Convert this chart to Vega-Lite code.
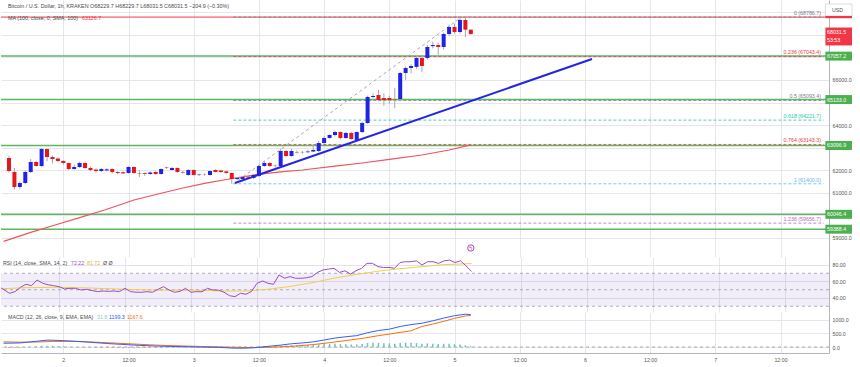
{
"$schema": "https://vega.github.io/schema/vega-lite/v6.json",
"padding": 0,
"spacing": 0,
"bounds": "flush",
"background": "white",
"config": {"view": {"stroke": null}, "font": "Liberation Sans", "axis": {"labelFont": "Liberation Sans", "labelOverlap": false}, "text": {"font": "Liberation Sans"}},
"datasets": {
"candles": [
{"h":-10,"o":62543,"hi":62650,"lo":61900,"c":61967},
{"h":-9,"o":61923,"hi":62100,"lo":61150,"c":61258},
{"h":-8,"o":61258,"hi":61500,"lo":61170,"c":61435},
{"h":-7,"o":61435,"hi":61980,"lo":61380,"c":61923},
{"h":-6,"o":61923,"hi":62500,"lo":61880,"c":62366},
{"h":-5,"o":62366,"hi":62420,"lo":62150,"c":62189},
{"h":-4,"o":62189,"hi":62990,"lo":62150,"c":62942},
{"h":-3,"o":62942,"hi":62960,"lo":62400,"c":62587},
{"h":-2,"o":62587,"hi":62650,"lo":62300,"c":62499},
{"h":-1,"o":62520,"hi":62560,"lo":62350,"c":62410},
{"h":0,"o":62410,"hi":62450,"lo":62250,"c":62322},
{"h":1,"o":62322,"hi":62340,"lo":62000,"c":62056},
{"h":2,"o":62056,"hi":62250,"lo":62020,"c":62144},
{"h":3,"o":62144,"hi":62380,"lo":62100,"c":62322},
{"h":4,"o":62322,"hi":62350,"lo":62050,"c":62100},
{"h":5,"o":62100,"hi":62160,"lo":61950,"c":62011},
{"h":6,"o":62030,"hi":62080,"lo":61900,"c":61967},
{"h":7,"o":61967,"hi":62100,"lo":61920,"c":62056},
{"h":8,"o":61990,"hi":62090,"lo":61950,"c":62040},
{"h":9,"o":62056,"hi":62080,"lo":61850,"c":61923},
{"h":10,"o":61923,"hi":61950,"lo":61820,"c":61879},
{"h":11,"o":61910,"hi":61950,"lo":61830,"c":61860},
{"h":12,"o":61879,"hi":62180,"lo":61850,"c":62144},
{"h":13,"o":62144,"hi":62170,"lo":61850,"c":61879},
{"h":14,"o":61879,"hi":62011,"lo":61700,"c":61860},
{"h":15,"o":61870,"hi":61900,"lo":61750,"c":61834},
{"h":16,"o":61834,"hi":61950,"lo":61800,"c":61900},
{"h":17,"o":61923,"hi":61960,"lo":61800,"c":61834},
{"h":18,"o":61834,"hi":62080,"lo":61800,"c":62056},
{"h":19,"o":62120,"hi":62160,"lo":62050,"c":62100},
{"h":20,"o":62011,"hi":62150,"lo":61980,"c":62100},
{"h":21,"o":62100,"hi":62130,"lo":61880,"c":61923},
{"h":22,"o":61923,"hi":61980,"lo":61860,"c":61900},
{"h":23,"o":61790,"hi":62050,"lo":61750,"c":62011},
{"h":24,"o":62011,"hi":62040,"lo":61760,"c":61790},
{"h":25,"o":61790,"hi":61850,"lo":61740,"c":61810},
{"h":26,"o":61810,"hi":61860,"lo":61760,"c":61800},
{"h":27,"o":61790,"hi":62000,"lo":61760,"c":61967},
{"h":28,"o":62011,"hi":62050,"lo":61900,"c":61923},
{"h":29,"o":61990,"hi":62020,"lo":61890,"c":61923},
{"h":30,"o":61950,"hi":61990,"lo":61850,"c":61879},
{"h":31,"o":61879,"hi":61900,"lo":61400,"c":61613},
{"h":32,"o":61613,"hi":61700,"lo":61560,"c":61657},
{"h":33,"o":61613,"hi":61750,"lo":61580,"c":61701},
{"h":34,"o":61720,"hi":61760,"lo":61620,"c":61680},
{"h":35,"o":61657,"hi":61830,"lo":61620,"c":61790},
{"h":36,"o":61746,"hi":62230,"lo":61700,"c":62189},
{"h":37,"o":62189,"hi":62420,"lo":62150,"c":62322},
{"h":38,"o":62322,"hi":62360,"lo":62140,"c":62189},
{"h":39,"o":62189,"hi":62260,"lo":62120,"c":62200},
{"h":40,"o":62189,"hi":62950,"lo":62150,"c":62853},
{"h":41,"o":62853,"hi":62900,"lo":62600,"c":62632},
{"h":42,"o":62632,"hi":62950,"lo":62600,"c":62853},
{"h":43,"o":62809,"hi":62880,"lo":62740,"c":62790},
{"h":44,"o":62790,"hi":62860,"lo":62740,"c":62800},
{"h":45,"o":62800,"hi":62900,"lo":62760,"c":62830},
{"h":46,"o":62830,"hi":63150,"lo":62800,"c":62900},
{"h":47,"o":62853,"hi":63300,"lo":62800,"c":63207},
{"h":48,"o":63207,"hi":63500,"lo":63180,"c":63429},
{"h":49,"o":63429,"hi":63600,"lo":63400,"c":63562},
{"h":50,"o":63562,"hi":63750,"lo":63500,"c":63695},
{"h":51,"o":63695,"hi":63720,"lo":63380,"c":63429},
{"h":52,"o":63429,"hi":63700,"lo":63400,"c":63651},
{"h":53,"o":63651,"hi":63700,"lo":63350,"c":63385},
{"h":54,"o":63341,"hi":63720,"lo":63300,"c":63695},
{"h":55,"o":63695,"hi":64150,"lo":63650,"c":64094},
{"h":56,"o":64094,"hi":65300,"lo":64050,"c":65246},
{"h":57,"o":65246,"hi":65400,"lo":65200,"c":65290},
{"h":58,"o":65335,"hi":65557,"lo":65050,"c":65113},
{"h":59,"o":65200,"hi":65400,"lo":64850,"c":65113},
{"h":60,"o":65200,"hi":65300,"lo":64950,"c":65113},
{"h":61,"o":65157,"hi":65644,"lo":64758,"c":65140},
{"h":62,"o":65157,"hi":66350,"lo":65100,"c":66309},
{"h":63,"o":66309,"hi":66600,"lo":66000,"c":66531},
{"h":64,"o":66531,"hi":66700,"lo":66300,"c":66620},
{"h":65,"o":66580,"hi":67100,"lo":66500,"c":66974},
{"h":66,"o":66974,"hi":67100,"lo":66350,"c":66620},
{"h":67,"o":66974,"hi":67550,"lo":66900,"c":67461},
{"h":68,"o":67500,"hi":67700,"lo":67400,"c":67550},
{"h":69,"o":67550,"hi":67650,"lo":67107,"c":67461},
{"h":70,"o":67461,"hi":68100,"lo":67350,"c":68037},
{"h":71,"o":68037,"hi":68450,"lo":67950,"c":68348},
{"h":72,"o":68348,"hi":68500,"lo":68050,"c":68126},
{"h":73,"o":68126,"hi":68786.7,"lo":68050,"c":68658},
{"h":74,"o":68658,"hi":68786,"lo":67905,"c":68229.7},
{"h":75,"o":68229.7,"hi":68229.7,"lo":68031.5,"c":68031.5}
],
"ma": [
{"h":-11,"v":58850},{"h":-6,"v":59250},{"h":-1.5,"v":59574},{"h":3,"v":59900},{"h":7.6,"v":60239},{"h":13,"v":60682},{"h":18,"v":60980},{"h":22,"v":61214},{"h":26,"v":61420},{"h":30,"v":61590},{"h":35,"v":61790},{"h":40,"v":61930},{"h":44,"v":62011},{"h":50,"v":62180},{"h":55,"v":62322},{"h":60,"v":62480},{"h":66,"v":62676},{"h":71,"v":62897},{"h":75,"v":63126.7}
],
"greens": [{"p":67057.2},{"p":65133.0},{"p":63096.9},{"p":60046.4},{"p":59388.4}],
"fibs": [
{"lvl":"0","p":68786.7,"lab":"0 (68786.7)"},
{"lvl":"0.236","p":67043.4,"lab":"0.236 (67043.4)"},
{"lvl":"0.5","p":65093.4,"lab":"0.5 (65093.4)"},
{"lvl":"0.618","p":64221.7,"lab":"0.618 (64221.7)"},
{"lvl":"0.764","p":63143.3,"lab":"0.764 (63143.3)"},
{"lvl":"1","p":61400.0,"lab":"1 (61400.0)"},
{"lvl":"1.236","p":59656.7,"lab":"1.236 (59656.7)"}
],
"fibdiag": [{"h":31.3,"p":61400},{"h":73.3,"p":68786.7}],
"trend": [{"h":31.6,"p":61436},{"h":97.3,"p":66930}],
"rsi": [
{"h":-11,"v":54},{"h":-10,"v":50},{"h":-9,"v":45.7},{"h":-8,"v":47.7},{"h":-7,"v":53},{"h":-6,"v":56.6},{"h":-5,"v":55},{"h":-4,"v":61.8},{"h":-3,"v":58},{"h":-2,"v":56},{"h":-1,"v":55},{"h":0,"v":53.7},{"h":1,"v":51},{"h":2,"v":51.7},{"h":3,"v":51.7},{"h":4,"v":49.7},{"h":5,"v":50.5},{"h":6,"v":49},{"h":7,"v":47.7},{"h":8,"v":48.5},{"h":9,"v":48},{"h":10,"v":48.5},{"h":11,"v":47.7},{"h":12,"v":51.7},{"h":13,"v":47.7},{"h":14,"v":47},{"h":15,"v":46.9},{"h":16,"v":47.7},{"h":17,"v":46.9},{"h":18,"v":50.5},{"h":19,"v":53.7},{"h":20,"v":49.7},{"h":21,"v":46.9},{"h":22,"v":48},{"h":23,"v":51.7},{"h":24,"v":46.9},{"h":25,"v":47.7},{"h":26,"v":47.5},{"h":27,"v":51.7},{"h":28,"v":49.7},{"h":29,"v":49.5},{"h":30,"v":47},{"h":31,"v":42.8},{"h":32,"v":41.6},{"h":33,"v":45.7},{"h":34,"v":44.5},{"h":35,"v":48},{"h":36,"v":57.8},{"h":37,"v":60.6},{"h":38,"v":57.8},{"h":39,"v":56.6},{"h":40,"v":67.9},{"h":41,"v":63.9},{"h":42,"v":65.9},{"h":43,"v":63.9},{"h":44,"v":63.9},{"h":45,"v":64.5},{"h":46,"v":66},{"h":47,"v":71},{"h":48,"v":74},{"h":49,"v":75},{"h":50,"v":76},{"h":51,"v":71},{"h":52,"v":73},{"h":53,"v":69},{"h":54,"v":73},{"h":55,"v":76},{"h":56,"v":82},{"h":57,"v":82},{"h":58,"v":78},{"h":59,"v":77},{"h":60,"v":77},{"h":61,"v":76},{"h":62,"v":83},{"h":63,"v":84},{"h":64,"v":84},{"h":65,"v":85},{"h":66,"v":80},{"h":67,"v":84},{"h":68,"v":84},{"h":69,"v":82},{"h":70,"v":85},{"h":71,"v":86},{"h":72,"v":83},{"h":73,"v":85},{"h":74,"v":79},{"h":75,"v":72.22}
],
"rsima": [
{"h":-11,"v":51},{"h":-6,"v":52.5},{"h":0,"v":53},{"h":6,"v":52},{"h":12,"v":50.5},{"h":18,"v":49.5},{"h":24,"v":49.5},{"h":30,"v":48.5},{"h":34,"v":48.5},{"h":38,"v":50.5},{"h":42,"v":54},{"h":46,"v":58.5},{"h":50,"v":64},{"h":54,"v":68.5},{"h":58,"v":72.5},{"h":62,"v":75.5},{"h":66,"v":78},{"h":70,"v":80.5},{"h":75,"v":81.72}
],
"macd": [
{"h":-11,"v":140},{"h":-8,"v":150},{"h":-5,"v":210},{"h":-3,"v":255},{"h":-1,"v":245},{"h":2,"v":215},{"h":5,"v":175},{"h":8,"v":130},{"h":11,"v":95},{"h":14,"v":60},{"h":17,"v":35},{"h":20,"v":20},{"h":23,"v":10},{"h":26,"v":-5},{"h":29,"v":-15},{"h":31,"v":-40},{"h":33,"v":-45},{"h":35,"v":-30},{"h":37,"v":10},{"h":40,"v":70},{"h":42,"v":120},{"h":44,"v":150},{"h":46,"v":190},{"h":48,"v":260},{"h":50,"v":330},{"h":52,"v":380},{"h":54,"v":420},{"h":56,"v":530},{"h":58,"v":610},{"h":60,"v":660},{"h":62,"v":760},{"h":64,"v":830},{"h":66,"v":880},{"h":68,"v":970},{"h":70,"v":1070},{"h":72,"v":1160},{"h":74,"v":1215},{"h":75,"v":1199.3}
],
"sig": [
{"h":-11,"v":190},{"h":-8,"v":180},{"h":-5,"v":185},{"h":-2,"v":205},{"h":1,"v":210},{"h":4,"v":195},{"h":7,"v":170},{"h":10,"v":140},{"h":13,"v":110},{"h":16,"v":80},{"h":19,"v":55},{"h":22,"v":38},{"h":25,"v":22},{"h":28,"v":8},{"h":31,"v":-8},{"h":34,"v":-20},{"h":37,"v":-15},{"h":40,"v":5},{"h":43,"v":40},{"h":46,"v":90},{"h":49,"v":160},{"h":52,"v":240},{"h":55,"v":320},{"h":58,"v":420},{"h":61,"v":510},{"h":64,"v":600},{"h":66,"v":760},{"h":68,"v":850},{"h":70,"v":950},{"h":72,"v":1060},{"h":74,"v":1150},{"h":75,"v":1167.6}
],
"hist": [
{"h":-10,"v":-40},{"h":-9,"v":-35},{"h":-8,"v":-30},{"h":-7,"v":-10},{"h":-6,"v":5},{"h":-5,"v":25},{"h":-4,"v":45},{"h":-3,"v":50},{"h":-2,"v":45},{"h":-1,"v":38},{"h":0,"v":25},{"h":1,"v":10},{"h":2,"v":3},{"h":3,"v":-8},{"h":4,"v":-15},{"h":5,"v":-20},{"h":6,"v":-25},{"h":7,"v":-30},{"h":8,"v":-35},{"h":9,"v":-38},{"h":10,"v":-40},{"h":11,"v":-42},{"h":12,"v":-40},{"h":13,"v":-42},{"h":14,"v":-40},{"h":15,"v":-40},{"h":16,"v":-38},{"h":17,"v":-35},{"h":18,"v":-30},{"h":19,"v":-25},{"h":20,"v":-20},{"h":21,"v":-22},{"h":22,"v":-25},{"h":23,"v":-20},{"h":24,"v":-20},{"h":25,"v":-22},{"h":26,"v":-18},{"h":27,"v":-15},{"h":28,"v":-18},{"h":29,"v":-20},{"h":30,"v":-25},{"h":31,"v":-32},{"h":32,"v":-30},{"h":33,"v":-25},{"h":34,"v":-12},{"h":35,"v":3},{"h":36,"v":18},{"h":37,"v":30},{"h":38,"v":32},{"h":39,"v":35},{"h":40,"v":55},{"h":41,"v":60},{"h":42,"v":70},{"h":43,"v":65},{"h":44,"v":60},{"h":45,"v":70},{"h":46,"v":85},{"h":47,"v":100},{"h":48,"v":110},{"h":49,"v":115},{"h":50,"v":120},{"h":51,"v":105},{"h":52,"v":100},{"h":53,"v":90},{"h":54,"v":95},{"h":55,"v":110},{"h":56,"v":150},{"h":57,"v":160},{"h":58,"v":150},{"h":59,"v":140},{"h":60,"v":130},{"h":61,"v":120},{"h":62,"v":150},{"h":63,"v":160},{"h":64,"v":155},{"h":65,"v":150},{"h":66,"v":125},{"h":67,"v":130},{"h":68,"v":125},{"h":69,"v":115},{"h":70,"v":120},{"h":71,"v":125},{"h":72,"v":100},{"h":73,"v":95},{"h":74,"v":65},{"h":75,"v":31.8}
]
},
"vconcat": [
{
"width": 828, "height": 257,
"layer": [
{"data": {"name": "greens"}, "mark": {"type": "rule", "color": "#5cb860", "strokeWidth": 1.5},
 "encoding": {"y": {"field": "p", "type": "quantitative", "title": null, "scale": {"domain": [58156, 69544], "nice": false, "zero": false}, "axis": {"orient": "right", "title": null, "values": [59000,60000,61000,62000,63000,64000,65000,66000,67000,68000,69000], "labelExpr": "indexof([60000,63000,65000,67000,68000,69000], datum.value) >= 0 ? '' : format(datum.value, '.1f')", "grid": true, "gridColor": "#e3e6ec", "ticks": false, "domain": true, "domainColor": "#b2b5be", "labelFontSize": 5.3, "labelColor": "#555555", "labelPadding": 3, "labelOverlap": false}}}},
{"data": {"values": [{}]}, "mark": {"type": "rule", "color": "#f23645", "strokeWidth": 1},
 "encoding": {"y": {"datum": 68786.7, "type": "quantitative", "title": null, "scale": {"domain": [58156, 69544], "nice": false, "zero": false}, "axis": {"orient": "right", "title": null, "values": [59000,60000,61000,62000,63000,64000,65000,66000,67000,68000,69000], "labelExpr": "indexof([60000,63000,65000,67000,68000,69000], datum.value) >= 0 ? '' : format(datum.value, '.1f')", "grid": true, "gridColor": "#e3e6ec", "ticks": false, "domain": true, "domainColor": "#b2b5be", "labelFontSize": 5.3, "labelColor": "#555555", "labelPadding": 3, "labelOverlap": false}}}},
{"data": {"name": "fibs"}, "mark": {"type": "rule", "strokeDash": [3, 2], "strokeWidth": 1, "opacity": 0.8},
 "encoding": {"x": {"datum": 31.3, "type": "quantitative", "title": null, "scale": {"domain": [-10.55, 140], "nice": false, "zero": false}, "axis": {"values": [0,12,24,36,48,60,72,84,96,108,120,132], "grid": true, "gridColor": "#e3e6ec", "labels": false, "ticks": false, "domain": false, "title": null, "labelOverlap": false}}, "x2": {"datum": 140},
   "y": {"field": "p", "type": "quantitative", "title": null, "scale": {"domain": [58156, 69544], "nice": false, "zero": false}, "axis": {"orient": "right", "title": null, "values": [59000,60000,61000,62000,63000,64000,65000,66000,67000,68000,69000], "labelExpr": "indexof([60000,63000,65000,67000,68000,69000], datum.value) >= 0 ? '' : format(datum.value, '.1f')", "grid": true, "gridColor": "#e3e6ec", "ticks": false, "domain": true, "domainColor": "#b2b5be", "labelFontSize": 5.3, "labelColor": "#555555", "labelPadding": 3, "labelOverlap": false}},
   "color": {"field": "lvl", "type": "nominal", "scale": {"domain": ["0","0.236","0.5","0.618","0.764","1","1.236"], "range": ["#787b86","#f23645","#787b86","#22c7a8","#f23645","#64b5f6","#b968c7"]}, "legend": null}}},
{"data": {"name": "fibdiag"}, "mark": {"type": "line", "color": "#a8a8a8", "strokeDash": [3, 3], "strokeWidth": 1},
 "encoding": {"x": {"field": "h", "type": "quantitative", "title": null, "scale": {"domain": [-10.55, 140], "nice": false, "zero": false}, "axis": {"values": [0,12,24,36,48,60,72,84,96,108,120,132], "grid": true, "gridColor": "#e3e6ec", "labels": false, "ticks": false, "domain": false, "title": null, "labelOverlap": false}},
   "y": {"field": "p", "type": "quantitative", "title": null, "scale": {"domain": [58156, 69544], "nice": false, "zero": false}, "axis": {"orient": "right", "title": null, "values": [59000,60000,61000,62000,63000,64000,65000,66000,67000,68000,69000], "labelExpr": "indexof([60000,63000,65000,67000,68000,69000], datum.value) >= 0 ? '' : format(datum.value, '.1f')", "grid": true, "gridColor": "#e3e6ec", "ticks": false, "domain": true, "domainColor": "#b2b5be", "labelFontSize": 5.3, "labelColor": "#555555", "labelPadding": 3, "labelOverlap": false}}}},
{"data": {"name": "ma"}, "mark": {"type": "line", "color": "#f0535c", "strokeWidth": 1.2, "clip": true},
 "encoding": {"x": {"field": "h", "type": "quantitative", "title": null, "scale": {"domain": [-10.55, 140], "nice": false, "zero": false}, "axis": {"values": [0,12,24,36,48,60,72,84,96,108,120,132], "grid": true, "gridColor": "#e3e6ec", "labels": false, "ticks": false, "domain": false, "title": null, "labelOverlap": false}},
   "y": {"field": "v", "type": "quantitative", "title": null, "scale": {"domain": [58156, 69544], "nice": false, "zero": false}, "axis": {"orient": "right", "title": null, "values": [59000,60000,61000,62000,63000,64000,65000,66000,67000,68000,69000], "labelExpr": "indexof([60000,63000,65000,67000,68000,69000], datum.value) >= 0 ? '' : format(datum.value, '.1f')", "grid": true, "gridColor": "#e3e6ec", "ticks": false, "domain": true, "domainColor": "#b2b5be", "labelFontSize": 5.3, "labelColor": "#555555", "labelPadding": 3, "labelOverlap": false}}}},
{"data": {"name": "candles"}, "mark": {"type": "rule", "color": "#a8a8a8", "strokeWidth": 1, "clip": true},
 "encoding": {"x": {"field": "h", "type": "quantitative", "title": null, "scale": {"domain": [-10.55, 140], "nice": false, "zero": false}, "axis": {"values": [0,12,24,36,48,60,72,84,96,108,120,132], "grid": true, "gridColor": "#e3e6ec", "labels": false, "ticks": false, "domain": false, "title": null, "labelOverlap": false}},
   "y": {"field": "lo", "type": "quantitative", "title": null, "scale": {"domain": [58156, 69544], "nice": false, "zero": false}, "axis": {"orient": "right", "title": null, "values": [59000,60000,61000,62000,63000,64000,65000,66000,67000,68000,69000], "labelExpr": "indexof([60000,63000,65000,67000,68000,69000], datum.value) >= 0 ? '' : format(datum.value, '.1f')", "grid": true, "gridColor": "#e3e6ec", "ticks": false, "domain": true, "domainColor": "#b2b5be", "labelFontSize": 5.3, "labelColor": "#555555", "labelPadding": 3, "labelOverlap": false}}, "y2": {"field": "hi"}}},
{"data": {"name": "candles"}, "mark": {"type": "bar", "clip": true},
 "encoding": {"x": {"field": "h", "type": "quantitative", "title": null, "scale": {"domain": [-10.55, 140], "nice": false, "zero": false}, "axis": {"values": [0,12,24,36,48,60,72,84,96,108,120,132], "grid": true, "gridColor": "#e3e6ec", "labels": false, "ticks": false, "domain": false, "title": null, "labelOverlap": false}},
   "y": {"field": "o", "type": "quantitative", "title": null, "scale": {"domain": [58156, 69544], "nice": false, "zero": false}, "axis": {"orient": "right", "title": null, "values": [59000,60000,61000,62000,63000,64000,65000,66000,67000,68000,69000], "labelExpr": "indexof([60000,63000,65000,67000,68000,69000], datum.value) >= 0 ? '' : format(datum.value, '.1f')", "grid": true, "gridColor": "#e3e6ec", "ticks": false, "domain": true, "domainColor": "#b2b5be", "labelFontSize": 5.3, "labelColor": "#555555", "labelPadding": 3, "labelOverlap": false}}, "y2": {"field": "c"},
   "size": {"value": 4},
   "color": {"condition": {"test": "datum.c >= datum.o", "value": "#1f23e6"}, "value": "#e5171b"}}},
{"data": {"name": "trend"}, "mark": {"type": "line", "color": "#2424e6", "strokeWidth": 2},
 "encoding": {"x": {"field": "h", "type": "quantitative", "title": null, "scale": {"domain": [-10.55, 140], "nice": false, "zero": false}, "axis": {"values": [0,12,24,36,48,60,72,84,96,108,120,132], "grid": true, "gridColor": "#e3e6ec", "labels": false, "ticks": false, "domain": false, "title": null, "labelOverlap": false}},
   "y": {"field": "p", "type": "quantitative", "title": null, "scale": {"domain": [58156, 69544], "nice": false, "zero": false}, "axis": {"orient": "right", "title": null, "values": [59000,60000,61000,62000,63000,64000,65000,66000,67000,68000,69000], "labelExpr": "indexof([60000,63000,65000,67000,68000,69000], datum.value) >= 0 ? '' : format(datum.value, '.1f')", "grid": true, "gridColor": "#e3e6ec", "ticks": false, "domain": true, "domainColor": "#b2b5be", "labelFontSize": 5.3, "labelColor": "#555555", "labelPadding": 3, "labelOverlap": false}}}},
{"data": {"name": "fibs"}, "mark": {"type": "text", "align": "right", "dx": -3, "dy": -4, "fontSize": 5.3},
 "encoding": {"x": {"datum": 140, "type": "quantitative", "title": null, "scale": {"domain": [-10.55, 140], "nice": false, "zero": false}, "axis": {"values": [0,12,24,36,48,60,72,84,96,108,120,132], "grid": true, "gridColor": "#e3e6ec", "labels": false, "ticks": false, "domain": false, "title": null, "labelOverlap": false}},
   "y": {"field": "p", "type": "quantitative", "title": null, "scale": {"domain": [58156, 69544], "nice": false, "zero": false}, "axis": {"orient": "right", "title": null, "values": [59000,60000,61000,62000,63000,64000,65000,66000,67000,68000,69000], "labelExpr": "indexof([60000,63000,65000,67000,68000,69000], datum.value) >= 0 ? '' : format(datum.value, '.1f')", "grid": true, "gridColor": "#e3e6ec", "ticks": false, "domain": true, "domainColor": "#b2b5be", "labelFontSize": 5.3, "labelColor": "#555555", "labelPadding": 3, "labelOverlap": false}},
   "text": {"field": "lab"},
   "color": {"field": "lvl", "type": "nominal", "legend": null}}},
{"data": {"values": [{"t": "Bitcoin / U.S. Dollar, 1h, KRAKEN  O68229.7  H68229.7  L68031.5  C68031.5  −204.9 (−0.30%)", "y": 69278}, {"t": "MA (100, close, 0, SMA, 100)", "y": 68746}]}, "mark": {"type": "text", "align": "left", "dx": 2, "fontSize": 5.4, "color": "#4a4a4a"},
 "encoding": {"x": {"datum": -10.55, "type": "quantitative", "title": null, "scale": {"domain": [-10.55, 140], "nice": false, "zero": false}, "axis": {"values": [0,12,24,36,48,60,72,84,96,108,120,132], "grid": true, "gridColor": "#e3e6ec", "labels": false, "ticks": false, "domain": false, "title": null, "labelOverlap": false}},
   "y": {"field": "y", "type": "quantitative", "title": null, "scale": {"domain": [58156, 69544], "nice": false, "zero": false}, "axis": {"orient": "right", "title": null, "values": [59000,60000,61000,62000,63000,64000,65000,66000,67000,68000,69000], "labelExpr": "indexof([60000,63000,65000,67000,68000,69000], datum.value) >= 0 ? '' : format(datum.value, '.1f')", "grid": true, "gridColor": "#e3e6ec", "ticks": false, "domain": true, "domainColor": "#b2b5be", "labelFontSize": 5.3, "labelColor": "#555555", "labelPadding": 3, "labelOverlap": false}},
   "text": {"field": "t"}}},
{"data": {"values": [{"t": "63126.7", "y": 68746}]}, "mark": {"type": "text", "align": "left", "dx": 76, "fontSize": 5.3, "color": "#f23645"},
 "encoding": {"x": {"datum": -10.55, "type": "quantitative", "title": null, "scale": {"domain": [-10.55, 140], "nice": false, "zero": false}, "axis": {"values": [0,12,24,36,48,60,72,84,96,108,120,132], "grid": true, "gridColor": "#e3e6ec", "labels": false, "ticks": false, "domain": false, "title": null, "labelOverlap": false}},
   "y": {"field": "y", "type": "quantitative", "title": null, "scale": {"domain": [58156, 69544], "nice": false, "zero": false}, "axis": {"orient": "right", "title": null, "values": [59000,60000,61000,62000,63000,64000,65000,66000,67000,68000,69000], "labelExpr": "indexof([60000,63000,65000,67000,68000,69000], datum.value) >= 0 ? '' : format(datum.value, '.1f')", "grid": true, "gridColor": "#e3e6ec", "ticks": false, "domain": true, "domainColor": "#b2b5be", "labelFontSize": 5.3, "labelColor": "#555555", "labelPadding": 3, "labelOverlap": false}},
   "text": {"field": "t"}}},
{"data": {"values": [{"y": 69101}]}, "mark": {"type": "point", "shape": "M0.1,-0.43H2V0.43H0.1Z", "size": 784, "filled": true, "fill": "white", "stroke": "#d1d4dc", "strokeWidth": 0.8, "opacity": 1, "clip": false},
 "encoding": {"x": {"datum": 140, "type": "quantitative", "title": null, "scale": {"domain": [-10.55, 140], "nice": false, "zero": false}, "axis": {"values": [0,12,24,36,48,60,72,84,96,108,120,132], "grid": true, "gridColor": "#e3e6ec", "labels": false, "ticks": false, "domain": false, "title": null, "labelOverlap": false}},
   "y": {"field": "y", "type": "quantitative", "title": null, "scale": {"domain": [58156, 69544], "nice": false, "zero": false}, "axis": {"orient": "right", "title": null, "values": [59000,60000,61000,62000,63000,64000,65000,66000,67000,68000,69000], "labelExpr": "indexof([60000,63000,65000,67000,68000,69000], datum.value) >= 0 ? '' : format(datum.value, '.1f')", "grid": true, "gridColor": "#e3e6ec", "ticks": false, "domain": true, "domainColor": "#b2b5be", "labelFontSize": 5.3, "labelColor": "#555555", "labelPadding": 3, "labelOverlap": false}}}},
{"data": {"values": [{"t": "USD", "y": 69101}]}, "mark": {"type": "text", "align": "left", "dx": 8, "fontSize": 5.3, "color": "#555555", "clip": false},
 "encoding": {"x": {"datum": 140, "type": "quantitative", "title": null, "scale": {"domain": [-10.55, 140], "nice": false, "zero": false}, "axis": {"values": [0,12,24,36,48,60,72,84,96,108,120,132], "grid": true, "gridColor": "#e3e6ec", "labels": false, "ticks": false, "domain": false, "title": null, "labelOverlap": false}},
   "y": {"field": "y", "type": "quantitative", "title": null, "scale": {"domain": [58156, 69544], "nice": false, "zero": false}, "axis": {"orient": "right", "title": null, "values": [59000,60000,61000,62000,63000,64000,65000,66000,67000,68000,69000], "labelExpr": "indexof([60000,63000,65000,67000,68000,69000], datum.value) >= 0 ? '' : format(datum.value, '.1f')", "grid": true, "gridColor": "#e3e6ec", "ticks": false, "domain": true, "domainColor": "#b2b5be", "labelFontSize": 5.3, "labelColor": "#555555", "labelPadding": 3, "labelOverlap": false}},
   "text": {"field": "t"}}},
{"data": {"name": "greens"}, "mark": {"type": "point", "shape": "M0.1,-0.32H2V0.32H0.1Z", "size": 784, "filled": true, "color": "#4caf50", "opacity": 1, "clip": false},
 "encoding": {"x": {"datum": 140, "type": "quantitative", "title": null, "scale": {"domain": [-10.55, 140], "nice": false, "zero": false}, "axis": {"values": [0,12,24,36,48,60,72,84,96,108,120,132], "grid": true, "gridColor": "#e3e6ec", "labels": false, "ticks": false, "domain": false, "title": null, "labelOverlap": false}},
   "y": {"field": "p", "type": "quantitative", "title": null, "scale": {"domain": [58156, 69544], "nice": false, "zero": false}, "axis": {"orient": "right", "title": null, "values": [59000,60000,61000,62000,63000,64000,65000,66000,67000,68000,69000], "labelExpr": "indexof([60000,63000,65000,67000,68000,69000], datum.value) >= 0 ? '' : format(datum.value, '.1f')", "grid": true, "gridColor": "#e3e6ec", "ticks": false, "domain": true, "domainColor": "#b2b5be", "labelFontSize": 5.3, "labelColor": "#555555", "labelPadding": 3, "labelOverlap": false}}}},
{"data": {"name": "greens"}, "mark": {"type": "text", "align": "left", "dx": 3, "fontSize": 5.3, "color": "white", "clip": false},
 "encoding": {"x": {"datum": 140, "type": "quantitative", "title": null, "scale": {"domain": [-10.55, 140], "nice": false, "zero": false}, "axis": {"values": [0,12,24,36,48,60,72,84,96,108,120,132], "grid": true, "gridColor": "#e3e6ec", "labels": false, "ticks": false, "domain": false, "title": null, "labelOverlap": false}},
   "y": {"field": "p", "type": "quantitative", "title": null, "scale": {"domain": [58156, 69544], "nice": false, "zero": false}, "axis": {"orient": "right", "title": null, "values": [59000,60000,61000,62000,63000,64000,65000,66000,67000,68000,69000], "labelExpr": "indexof([60000,63000,65000,67000,68000,69000], datum.value) >= 0 ? '' : format(datum.value, '.1f')", "grid": true, "gridColor": "#e3e6ec", "ticks": false, "domain": true, "domainColor": "#b2b5be", "labelFontSize": 5.3, "labelColor": "#555555", "labelPadding": 3, "labelOverlap": false}},
   "text": {"field": "p", "type": "quantitative", "format": ".1f"}}},
{"data": {"values": [{"y": 67927}]}, "mark": {"type": "point", "shape": "M0.1,-0.64H2V0.64H0.1Z", "size": 784, "filled": true, "color": "#f23645", "opacity": 1, "clip": false},
 "encoding": {"x": {"datum": 140, "type": "quantitative", "title": null, "scale": {"domain": [-10.55, 140], "nice": false, "zero": false}, "axis": {"values": [0,12,24,36,48,60,72,84,96,108,120,132], "grid": true, "gridColor": "#e3e6ec", "labels": false, "ticks": false, "domain": false, "title": null, "labelOverlap": false}},
   "y": {"field": "y", "type": "quantitative", "title": null, "scale": {"domain": [58156, 69544], "nice": false, "zero": false}, "axis": {"orient": "right", "title": null, "values": [59000,60000,61000,62000,63000,64000,65000,66000,67000,68000,69000], "labelExpr": "indexof([60000,63000,65000,67000,68000,69000], datum.value) >= 0 ? '' : format(datum.value, '.1f')", "grid": true, "gridColor": "#e3e6ec", "ticks": false, "domain": true, "domainColor": "#b2b5be", "labelFontSize": 5.3, "labelColor": "#555555", "labelPadding": 3, "labelOverlap": false}}}},
{"data": {"values": [{"y": 68786.7}]}, "mark": {"type": "point", "shape": "M0.1,-0.08H2V0.08H0.1Z", "size": 784, "filled": true, "color": "#f23645", "opacity": 1, "clip": false},
 "encoding": {"x": {"datum": 140, "type": "quantitative", "title": null, "scale": {"domain": [-10.55, 140], "nice": false, "zero": false}, "axis": {"values": [0,12,24,36,48,60,72,84,96,108,120,132], "grid": true, "gridColor": "#e3e6ec", "labels": false, "ticks": false, "domain": false, "title": null, "labelOverlap": false}},
   "y": {"field": "y", "type": "quantitative", "title": null, "scale": {"domain": [58156, 69544], "nice": false, "zero": false}, "axis": {"orient": "right", "title": null, "values": [59000,60000,61000,62000,63000,64000,65000,66000,67000,68000,69000], "labelExpr": "indexof([60000,63000,65000,67000,68000,69000], datum.value) >= 0 ? '' : format(datum.value, '.1f')", "grid": true, "gridColor": "#e3e6ec", "ticks": false, "domain": true, "domainColor": "#b2b5be", "labelFontSize": 5.3, "labelColor": "#555555", "labelPadding": 3, "labelOverlap": false}}}},
{"data": {"values": [{"t": "68031.5", "y": 68126}, {"t": "53:53", "y": 67772}]}, "mark": {"type": "text", "align": "left", "dx": 3, "fontSize": 5.3, "color": "white", "clip": false},
 "encoding": {"x": {"datum": 140, "type": "quantitative", "title": null, "scale": {"domain": [-10.55, 140], "nice": false, "zero": false}, "axis": {"values": [0,12,24,36,48,60,72,84,96,108,120,132], "grid": true, "gridColor": "#e3e6ec", "labels": false, "ticks": false, "domain": false, "title": null, "labelOverlap": false}},
   "y": {"field": "y", "type": "quantitative", "title": null, "scale": {"domain": [58156, 69544], "nice": false, "zero": false}, "axis": {"orient": "right", "title": null, "values": [59000,60000,61000,62000,63000,64000,65000,66000,67000,68000,69000], "labelExpr": "indexof([60000,63000,65000,67000,68000,69000], datum.value) >= 0 ? '' : format(datum.value, '.1f')", "grid": true, "gridColor": "#e3e6ec", "ticks": false, "domain": true, "domainColor": "#b2b5be", "labelFontSize": 5.3, "labelColor": "#555555", "labelPadding": 3, "labelOverlap": false}},
   "text": {"field": "t"}}},
{"data": {"values": [{"h": 75, "y": 58555}]}, "mark": {"type": "point", "shape": "circle", "size": 40, "filled": false, "color": "#ab47bc", "strokeWidth": 1, "opacity": 1},
 "encoding": {"x": {"field": "h", "type": "quantitative", "title": null, "scale": {"domain": [-10.55, 140], "nice": false, "zero": false}, "axis": {"values": [0,12,24,36,48,60,72,84,96,108,120,132], "grid": true, "gridColor": "#e3e6ec", "labels": false, "ticks": false, "domain": false, "title": null, "labelOverlap": false}},
   "y": {"field": "y", "type": "quantitative", "title": null, "scale": {"domain": [58156, 69544], "nice": false, "zero": false}, "axis": {"orient": "right", "title": null, "values": [59000,60000,61000,62000,63000,64000,65000,66000,67000,68000,69000], "labelExpr": "indexof([60000,63000,65000,67000,68000,69000], datum.value) >= 0 ? '' : format(datum.value, '.1f')", "grid": true, "gridColor": "#e3e6ec", "ticks": false, "domain": true, "domainColor": "#b2b5be", "labelFontSize": 5.3, "labelColor": "#555555", "labelPadding": 3, "labelOverlap": false}}}},
{"data": {"values": [{"h": 75, "y": 58555, "t": "ϟ"}]}, "mark": {"type": "text", "font": "DejaVu Sans", "fontSize": 6, "color": "#ab47bc"},
 "encoding": {"x": {"field": "h", "type": "quantitative", "title": null, "scale": {"domain": [-10.55, 140], "nice": false, "zero": false}, "axis": {"values": [0,12,24,36,48,60,72,84,96,108,120,132], "grid": true, "gridColor": "#e3e6ec", "labels": false, "ticks": false, "domain": false, "title": null, "labelOverlap": false}},
   "y": {"field": "y", "type": "quantitative", "title": null, "scale": {"domain": [58156, 69544], "nice": false, "zero": false}, "axis": {"orient": "right", "title": null, "values": [59000,60000,61000,62000,63000,64000,65000,66000,67000,68000,69000], "labelExpr": "indexof([60000,63000,65000,67000,68000,69000], datum.value) >= 0 ? '' : format(datum.value, '.1f')", "grid": true, "gridColor": "#e3e6ec", "ticks": false, "domain": true, "domainColor": "#b2b5be", "labelFontSize": 5.3, "labelColor": "#555555", "labelPadding": 3, "labelOverlap": false}},
   "text": {"field": "t"}}}
]
},
{
"width": 828, "height": 55,
"layer": [
{"data": {"values": [{"a": -10.55, "b": 140, "lo": 30, "hi": 70}]}, "mark": {"type": "rect", "color": "#7e57c2", "opacity": 0.1},
 "encoding": {"x": {"field": "a", "type": "quantitative", "title": null, "scale": {"domain": [-10.55, 140], "nice": false, "zero": false}, "axis": {"values": [0,12,24,36,48,60,72,84,96,108,120,132], "grid": true, "gridColor": "#e3e6ec", "labels": false, "ticks": false, "domain": false, "title": null, "labelOverlap": false}},
   "x2": {"field": "b"},
   "y": {"field": "hi", "type": "quantitative", "title": null, "scale": {"domain": [23, 89.7], "nice": false, "zero": false}, "axis": {"orient": "right", "title": null, "values": [40, 60, 80], "format": ".2f", "grid": true, "gridColor": "#e3e1ec", "ticks": false, "domain": true, "domainColor": "#b2b5be", "labelFontSize": 5.3, "labelColor": "#555555", "labelPadding": 3, "labelOverlap": false}},
   "y2": {"field": "lo"}}},
{"data": {"values": [{"v": 70}, {"v": 50}, {"v": 30}]}, "mark": {"type": "rule", "color": "#9d98ab", "strokeDash": [3, 3], "strokeWidth": 0.8},
 "encoding": {"y": {"field": "v", "type": "quantitative", "title": null, "scale": {"domain": [23, 89.7], "nice": false, "zero": false}, "axis": {"orient": "right", "title": null, "values": [40, 60, 80], "format": ".2f", "grid": true, "gridColor": "#e3e1ec", "ticks": false, "domain": true, "domainColor": "#b2b5be", "labelFontSize": 5.3, "labelColor": "#555555", "labelPadding": 3, "labelOverlap": false}}}},
{"data": {"name": "rsima"}, "mark": {"type": "line", "color": "#f2cf45", "strokeWidth": 1, "clip": true},
 "encoding": {"x": {"field": "h", "type": "quantitative", "title": null, "scale": {"domain": [-10.55, 140], "nice": false, "zero": false}, "axis": {"values": [0,12,24,36,48,60,72,84,96,108,120,132], "grid": true, "gridColor": "#e3e6ec", "labels": false, "ticks": false, "domain": false, "title": null, "labelOverlap": false}},
   "y": {"field": "v", "type": "quantitative", "title": null, "scale": {"domain": [23, 89.7], "nice": false, "zero": false}, "axis": {"orient": "right", "title": null, "values": [40, 60, 80], "format": ".2f", "grid": true, "gridColor": "#e3e1ec", "ticks": false, "domain": true, "domainColor": "#b2b5be", "labelFontSize": 5.3, "labelColor": "#555555", "labelPadding": 3, "labelOverlap": false}}}},
{"data": {"name": "rsi"}, "mark": {"type": "line", "color": "#9b4dca", "strokeWidth": 1, "clip": true},
 "encoding": {"x": {"field": "h", "type": "quantitative", "title": null, "scale": {"domain": [-10.55, 140], "nice": false, "zero": false}, "axis": {"values": [0,12,24,36,48,60,72,84,96,108,120,132], "grid": true, "gridColor": "#e3e6ec", "labels": false, "ticks": false, "domain": false, "title": null, "labelOverlap": false}},
   "y": {"field": "v", "type": "quantitative", "title": null, "scale": {"domain": [23, 89.7], "nice": false, "zero": false}, "axis": {"orient": "right", "title": null, "values": [40, 60, 80], "format": ".2f", "grid": true, "gridColor": "#e3e1ec", "ticks": false, "domain": true, "domainColor": "#b2b5be", "labelFontSize": 5.3, "labelColor": "#555555", "labelPadding": 3, "labelOverlap": false}}}},
{"data": {"values": [{"t": "RSI (14, close, SMA, 14, 2)", "y": 82.4}]}, "mark": {"type": "text", "align": "left", "dx": 2, "fontSize": 5.3, "color": "#4a4a4a"},
 "encoding": {"x": {"datum": -10.55, "type": "quantitative", "title": null, "scale": {"domain": [-10.55, 140], "nice": false, "zero": false}, "axis": {"values": [0,12,24,36,48,60,72,84,96,108,120,132], "grid": true, "gridColor": "#e3e6ec", "labels": false, "ticks": false, "domain": false, "title": null, "labelOverlap": false}},
   "y": {"field": "y", "type": "quantitative", "title": null, "scale": {"domain": [23, 89.7], "nice": false, "zero": false}, "axis": {"orient": "right", "title": null, "values": [40, 60, 80], "format": ".2f", "grid": true, "gridColor": "#e3e1ec", "ticks": false, "domain": true, "domainColor": "#b2b5be", "labelFontSize": 5.3, "labelColor": "#555555", "labelPadding": 3, "labelOverlap": false}},
   "text": {"field": "t"}}},
{"data": {"values": [{"t": "72.22", "y": 82.4}]}, "mark": {"type": "text", "align": "left", "dx": 70, "fontSize": 5.3, "color": "#9b4dca"},
 "encoding": {"x": {"datum": -10.55, "type": "quantitative", "title": null, "scale": {"domain": [-10.55, 140], "nice": false, "zero": false}, "axis": {"values": [0,12,24,36,48,60,72,84,96,108,120,132], "grid": true, "gridColor": "#e3e6ec", "labels": false, "ticks": false, "domain": false, "title": null, "labelOverlap": false}},
   "y": {"field": "y", "type": "quantitative", "title": null, "scale": {"domain": [23, 89.7], "nice": false, "zero": false}, "axis": {"orient": "right", "title": null, "values": [40, 60, 80], "format": ".2f", "grid": true, "gridColor": "#e3e1ec", "ticks": false, "domain": true, "domainColor": "#b2b5be", "labelFontSize": 5.3, "labelColor": "#555555", "labelPadding": 3, "labelOverlap": false}},
   "text": {"field": "t"}}},
{"data": {"values": [{"t": "81.72", "y": 82.4}]}, "mark": {"type": "text", "align": "left", "dx": 86, "fontSize": 5.3, "color": "#e3bb2a"},
 "encoding": {"x": {"datum": -10.55, "type": "quantitative", "title": null, "scale": {"domain": [-10.55, 140], "nice": false, "zero": false}, "axis": {"values": [0,12,24,36,48,60,72,84,96,108,120,132], "grid": true, "gridColor": "#e3e6ec", "labels": false, "ticks": false, "domain": false, "title": null, "labelOverlap": false}},
   "y": {"field": "y", "type": "quantitative", "title": null, "scale": {"domain": [23, 89.7], "nice": false, "zero": false}, "axis": {"orient": "right", "title": null, "values": [40, 60, 80], "format": ".2f", "grid": true, "gridColor": "#e3e1ec", "ticks": false, "domain": true, "domainColor": "#b2b5be", "labelFontSize": 5.3, "labelColor": "#555555", "labelPadding": 3, "labelOverlap": false}},
   "text": {"field": "t"}}},
{"data": {"values": [{"t": "Ø  Ø", "y": 82.4}]}, "mark": {"type": "text", "align": "left", "dx": 102, "fontSize": 5.3, "color": "#4a4a4a"},
 "encoding": {"x": {"datum": -10.55, "type": "quantitative", "title": null, "scale": {"domain": [-10.55, 140], "nice": false, "zero": false}, "axis": {"values": [0,12,24,36,48,60,72,84,96,108,120,132], "grid": true, "gridColor": "#e3e6ec", "labels": false, "ticks": false, "domain": false, "title": null, "labelOverlap": false}},
   "y": {"field": "y", "type": "quantitative", "title": null, "scale": {"domain": [23, 89.7], "nice": false, "zero": false}, "axis": {"orient": "right", "title": null, "values": [40, 60, 80], "format": ".2f", "grid": true, "gridColor": "#e3e1ec", "ticks": false, "domain": true, "domainColor": "#b2b5be", "labelFontSize": 5.3, "labelColor": "#555555", "labelPadding": 3, "labelOverlap": false}},
   "text": {"field": "t"}}}
]
},
{
"width": 828, "height": 41,
"layer": [
{"data": {"values": [{"v": 0}]}, "mark": {"type": "rule", "color": "#9598a1", "strokeDash": [3, 3], "strokeWidth": 0.8},
 "encoding": {"y": {"field": "v", "type": "quantitative", "title": null, "scale": {"domain": [-222, 1296], "nice": false, "zero": false}, "axis": {"orient": "right", "title": null, "values": [0, 500, 1000], "format": ".1f", "grid": true, "gridColor": "#e3e6ec", "ticks": false, "domain": true, "domainColor": "#b2b5be", "labelFontSize": 5.3, "labelColor": "#555555", "labelPadding": 3, "labelOverlap": false}}}},
{"data": {"name": "hist"}, "mark": {"type": "bar", "clip": true},
 "encoding": {"x": {"field": "h", "type": "quantitative", "title": null, "scale": {"domain": [-10.55, 140], "nice": false, "zero": false}, "axis": {"values": [0,12,24,36,48,60,72,84,96,108,120,132], "labelExpr": "datum.value % 24 == 0 ? toString(2 + datum.value / 24) : '12:00'", "grid": true, "gridColor": "#e3e6ec", "ticks": false, "domain": true, "domainColor": "#b2b5be", "labelFontSize": 5.3, "labelColor": "#555555", "labelPadding": 4, "labelFlush": false, "labelOverlap": false, "title": null}},
   "y": {"field": "v", "type": "quantitative", "title": null, "scale": {"domain": [-222, 1296], "nice": false, "zero": false}, "axis": {"orient": "right", "title": null, "values": [0, 500, 1000], "format": ".1f", "grid": true, "gridColor": "#e3e6ec", "ticks": false, "domain": true, "domainColor": "#b2b5be", "labelFontSize": 5.3, "labelColor": "#555555", "labelPadding": 3, "labelOverlap": false}}, "y2": {"datum": 0},
   "size": {"value": 1.5},
   "color": {"condition": {"test": "datum.v >= 0", "value": "#6cc4b9"}, "value": "#f28b8b"}}},
{"data": {"name": "sig"}, "mark": {"type": "line", "color": "#ff6d00", "strokeWidth": 1, "clip": true},
 "encoding": {"x": {"field": "h", "type": "quantitative", "title": null, "scale": {"domain": [-10.55, 140], "nice": false, "zero": false}, "axis": {"values": [0,12,24,36,48,60,72,84,96,108,120,132], "labelExpr": "datum.value % 24 == 0 ? toString(2 + datum.value / 24) : '12:00'", "grid": true, "gridColor": "#e3e6ec", "ticks": false, "domain": true, "domainColor": "#b2b5be", "labelFontSize": 5.3, "labelColor": "#555555", "labelPadding": 4, "labelFlush": false, "labelOverlap": false, "title": null}},
   "y": {"field": "v", "type": "quantitative", "title": null, "scale": {"domain": [-222, 1296], "nice": false, "zero": false}, "axis": {"orient": "right", "title": null, "values": [0, 500, 1000], "format": ".1f", "grid": true, "gridColor": "#e3e6ec", "ticks": false, "domain": true, "domainColor": "#b2b5be", "labelFontSize": 5.3, "labelColor": "#555555", "labelPadding": 3, "labelOverlap": false}}}},
{"data": {"name": "macd"}, "mark": {"type": "line", "color": "#2962ff", "strokeWidth": 1, "clip": true},
 "encoding": {"x": {"field": "h", "type": "quantitative", "title": null, "scale": {"domain": [-10.55, 140], "nice": false, "zero": false}, "axis": {"values": [0,12,24,36,48,60,72,84,96,108,120,132], "labelExpr": "datum.value % 24 == 0 ? toString(2 + datum.value / 24) : '12:00'", "grid": true, "gridColor": "#e3e6ec", "ticks": false, "domain": true, "domainColor": "#b2b5be", "labelFontSize": 5.3, "labelColor": "#555555", "labelPadding": 4, "labelFlush": false, "labelOverlap": false, "title": null}},
   "y": {"field": "v", "type": "quantitative", "title": null, "scale": {"domain": [-222, 1296], "nice": false, "zero": false}, "axis": {"orient": "right", "title": null, "values": [0, 500, 1000], "format": ".1f", "grid": true, "gridColor": "#e3e6ec", "ticks": false, "domain": true, "domainColor": "#b2b5be", "labelFontSize": 5.3, "labelColor": "#555555", "labelPadding": 3, "labelOverlap": false}}}},
{"data": {"values": [{"t": "MACD (12, 26, close, 9, EMA, EMA)", "y": 1111}]}, "mark": {"type": "text", "align": "left", "dx": 2, "fontSize": 5.3, "color": "#4a4a4a"},
 "encoding": {"x": {"datum": -10.55, "type": "quantitative", "title": null, "scale": {"domain": [-10.55, 140], "nice": false, "zero": false}, "axis": {"values": [0,12,24,36,48,60,72,84,96,108,120,132], "labelExpr": "datum.value % 24 == 0 ? toString(2 + datum.value / 24) : '12:00'", "grid": true, "gridColor": "#e3e6ec", "ticks": false, "domain": true, "domainColor": "#b2b5be", "labelFontSize": 5.3, "labelColor": "#555555", "labelPadding": 4, "labelFlush": false, "labelOverlap": false, "title": null}},
   "y": {"field": "y", "type": "quantitative", "title": null, "scale": {"domain": [-222, 1296], "nice": false, "zero": false}, "axis": {"orient": "right", "title": null, "values": [0, 500, 1000], "format": ".1f", "grid": true, "gridColor": "#e3e6ec", "ticks": false, "domain": true, "domainColor": "#b2b5be", "labelFontSize": 5.3, "labelColor": "#555555", "labelPadding": 3, "labelOverlap": false}},
   "text": {"field": "t"}}},
{"data": {"values": [{"t": "31.8", "y": 1111}]}, "mark": {"type": "text", "align": "left", "dx": 91, "fontSize": 5.3, "color": "#7fd3c7"},
 "encoding": {"x": {"datum": -10.55, "type": "quantitative", "title": null, "scale": {"domain": [-10.55, 140], "nice": false, "zero": false}, "axis": {"values": [0,12,24,36,48,60,72,84,96,108,120,132], "labelExpr": "datum.value % 24 == 0 ? toString(2 + datum.value / 24) : '12:00'", "grid": true, "gridColor": "#e3e6ec", "ticks": false, "domain": true, "domainColor": "#b2b5be", "labelFontSize": 5.3, "labelColor": "#555555", "labelPadding": 4, "labelFlush": false, "labelOverlap": false, "title": null}},
   "y": {"field": "y", "type": "quantitative", "title": null, "scale": {"domain": [-222, 1296], "nice": false, "zero": false}, "axis": {"orient": "right", "title": null, "values": [0, 500, 1000], "format": ".1f", "grid": true, "gridColor": "#e3e6ec", "ticks": false, "domain": true, "domainColor": "#b2b5be", "labelFontSize": 5.3, "labelColor": "#555555", "labelPadding": 3, "labelOverlap": false}},
   "text": {"field": "t"}}},
{"data": {"values": [{"t": "1199.3", "y": 1111}]}, "mark": {"type": "text", "align": "left", "dx": 103, "fontSize": 5.3, "color": "#2962ff"},
 "encoding": {"x": {"datum": -10.55, "type": "quantitative", "title": null, "scale": {"domain": [-10.55, 140], "nice": false, "zero": false}, "axis": {"values": [0,12,24,36,48,60,72,84,96,108,120,132], "labelExpr": "datum.value % 24 == 0 ? toString(2 + datum.value / 24) : '12:00'", "grid": true, "gridColor": "#e3e6ec", "ticks": false, "domain": true, "domainColor": "#b2b5be", "labelFontSize": 5.3, "labelColor": "#555555", "labelPadding": 4, "labelFlush": false, "labelOverlap": false, "title": null}},
   "y": {"field": "y", "type": "quantitative", "title": null, "scale": {"domain": [-222, 1296], "nice": false, "zero": false}, "axis": {"orient": "right", "title": null, "values": [0, 500, 1000], "format": ".1f", "grid": true, "gridColor": "#e3e6ec", "ticks": false, "domain": true, "domainColor": "#b2b5be", "labelFontSize": 5.3, "labelColor": "#555555", "labelPadding": 3, "labelOverlap": false}},
   "text": {"field": "t"}}},
{"data": {"values": [{"t": "1167.6", "y": 1111}]}, "mark": {"type": "text", "align": "left", "dx": 121, "fontSize": 5.3, "color": "#ff6d00"},
 "encoding": {"x": {"datum": -10.55, "type": "quantitative", "title": null, "scale": {"domain": [-10.55, 140], "nice": false, "zero": false}, "axis": {"values": [0,12,24,36,48,60,72,84,96,108,120,132], "labelExpr": "datum.value % 24 == 0 ? toString(2 + datum.value / 24) : '12:00'", "grid": true, "gridColor": "#e3e6ec", "ticks": false, "domain": true, "domainColor": "#b2b5be", "labelFontSize": 5.3, "labelColor": "#555555", "labelPadding": 4, "labelFlush": false, "labelOverlap": false, "title": null}},
   "y": {"field": "y", "type": "quantitative", "title": null, "scale": {"domain": [-222, 1296], "nice": false, "zero": false}, "axis": {"orient": "right", "title": null, "values": [0, 500, 1000], "format": ".1f", "grid": true, "gridColor": "#e3e6ec", "ticks": false, "domain": true, "domainColor": "#b2b5be", "labelFontSize": 5.3, "labelColor": "#555555", "labelPadding": 3, "labelOverlap": false}},
   "text": {"field": "t"}}}
]
}
]
}
